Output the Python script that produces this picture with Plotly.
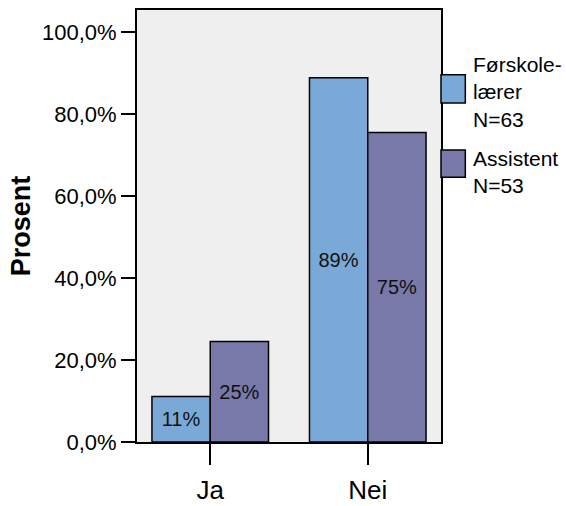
import plotly.graph_objects as go

categories = ["Ja", "Nei"]
forskole_values = [11.1, 88.9]
assistent_values = [24.5, 75.5]
forskole_text = ["11%", "89%"]
assistent_text = ["25%", "75%"]
legend_names = ["Førskole-<br>lærer<br>N=63", "Assistent<br>N=53"]
y_ticks = [0, 20, 40, 60, 80, 100]
y_tick_labels = ["0,0%", "20,0%", "40,0%", "60,0%", "80,0%", "100,0%"]

FONT = "Liberation Sans, Arial, sans-serif"
colors = ["#7BA9D7", "#7878A9"]

fig = go.Figure()
for vals, txt, col in [(forskole_values, forskole_text, colors[0]),
                       (assistent_values, assistent_text, colors[1])]:
    fig.add_trace(go.Bar(
        x=categories, y=vals, text=txt,
        textposition="inside", insidetextanchor="middle",
        textangle=0,
        textfont=dict(family=FONT, size=20, color="#111111"),
        marker=dict(color=col, line=dict(color="black", width=1.5)),
        showlegend=False,
    ))

fig.update_layout(
    width=566, height=506,
    margin=dict(l=137, r=125, t=10, b=64),
    barmode="group", bargap=0.26, bargroupgap=0,
    plot_bgcolor="#EFEFEF", paper_bgcolor="white",
    font=dict(family=FONT, color="black"),
)
fig.update_xaxes(
    range=[-0.465, 1.465], automargin=False,
    showline=True, linecolor="black", linewidth=2, mirror=True,
    ticks="outside", ticklen=21, tickwidth=1.5, tickcolor="black",
    tickfont=dict(size=26), ticklabelstandoff=3,
)
fig.update_yaxes(
    range=[0, 105.4], tickvals=y_ticks, ticktext=y_tick_labels,
    automargin=False,
    showline=True, linecolor="black", linewidth=2, mirror=True,
    showgrid=False, zeroline=False,
    ticks="outside", ticklen=14, tickwidth=2, tickcolor="black",
    tickfont=dict(size=22),
    title=dict(text="<b>Prosent</b>", font=dict(size=27), standoff=4),
)

# legend drawn by hand so the swatches can be large
swatch_y = [(0.785, 0.85), (0.613, 0.676)]
text_y = [0.81, 0.624]
for (y0, y1), ty, name, col in zip(swatch_y, text_y, legend_names, colors):
    fig.add_shape(type="rect", xref="paper", yref="paper",
                  x0=1.0, x1=1.08, y0=y0, y1=y1,
                  fillcolor=col, line=dict(color="black", width=1.5))
    fig.add_annotation(xref="paper", yref="paper", x=1.1, y=ty,
                       xanchor="left", yanchor="middle", align="left",
                       text=name, showarrow=False,
                       font=dict(size=21, family=FONT))

# drop the default 8px body margin so the figure fills the window exactly
fig.write_html("out.html", config={"displayModeBar": False},
               post_script="document.body.style.margin = '0';")
